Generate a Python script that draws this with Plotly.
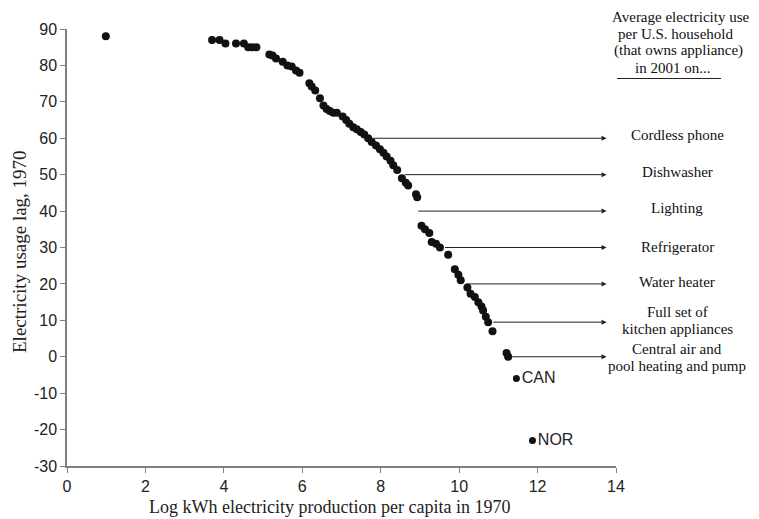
import plotly.graph_objects as go

# Country scatter (log kWh per capita 1970, electricity usage lag)
x_vals = [0.99, 3.70, 3.89, 4.04, 4.31, 4.51, 4.62, 4.72, 4.83, 5.16, 5.24, 5.33,
          5.50, 5.62, 5.73, 5.84, 5.93, 6.18, 6.24, 6.33, 6.45, 6.54, 6.62, 6.70,
          6.79, 6.88, 7.03, 7.12, 7.20, 7.30, 7.39, 7.49, 7.58, 7.68, 7.77, 7.88,
          7.98, 8.07, 8.15, 8.25, 8.32, 8.42, 8.54, 8.64, 8.70, 8.90, 8.93, 9.04,
          9.13, 9.24, 9.30, 9.41, 9.51, 9.72, 9.89, 9.98, 10.04, 10.21, 10.29,
          10.40, 10.49, 10.57, 10.61, 10.68, 10.74, 10.85, 11.21, 11.25]
y_vals = [88, 87, 87, 86, 86, 86, 85, 85, 85, 83, 82.7, 81.9,
          81, 80, 79.7, 78.6, 78, 75.1, 74.2, 73.1, 71, 69, 68, 67.5,
          67, 67, 66, 65, 64, 63, 62.5, 61.7, 61, 60, 59, 58,
          57, 56, 55, 53.8, 52.6, 51.3, 49, 47.8, 47, 44.6, 43.8, 36,
          35, 34, 31.5, 31, 30, 28, 24, 22.5, 21, 19, 17.3,
          16.4, 15, 13.8, 12.7, 11, 9.5, 7, 1, 0]

outlier_x = [11.46, 11.87]
outlier_y = [-6, -23]
outlier_names = ["CAN", "NOR"]

# Appliance reference levels
levels = [60, 50, 40, 30, 20, 9.5, 0]
line_starts = [7.70, 8.58, 8.92, 9.60, 10.15, 10.83, 11.29]
appliance_lines = [["Cordless phone"], ["Dishwasher"], ["Lighting"], ["Refrigerator"],
                   ["Water heater"], ["Full set of", "kitchen appliances"],
                   ["Central air and", "pool heating and pump"]]
header_lines = ["Average electricity use", "per U.S. household",
                "(that owns appliance)", "in 2001 on..."]

x_ticks = [0, 2, 4, 6, 8, 10, 12, 14]
y_ticks = [-30, -20, -10, 0, 10, 20, 30, 40, 50, 60, 70, 80, 90]
y_tick_text = [str(v) for v in y_ticks]  # plain hyphen minus

# page geometry: the html body has an 8px margin, so the figure sits at (8, 8)
OFF = 8
PAGE_W, PAGE_H = 759, 519
W, H = PAGE_W - OFF, PAGE_H - OFF
# plot area in page pixels
PL, PR, PT, PB = 67, 616, 29, 466
L, R, T, B = PL - OFF, W - (PR - OFF), PT - OFF, H - (PB - OFF)
plot_w = PR - PL
plot_h = PB - PT


def px_x(p):
    return (p - PL) / plot_w


def px_y(p):
    return (PB - p) / plot_h


fig = go.Figure()
fig.add_trace(go.Scatter(x=x_vals, y=y_vals, mode="markers",
                         marker=dict(color="#111111", size=8), showlegend=False,
                         cliponaxis=False))
fig.add_trace(go.Scatter(x=outlier_x, y=outlier_y, mode="markers+text",
                         text=outlier_names, textposition="middle right",
                         textfont=dict(family="Liberation Sans", size=16, color="#222"),
                         marker=dict(color="#111111", size=7), showlegend=False,
                         cliponaxis=False))

serif = "Liberation Serif"
annotations = []
arrow_end = 13.76
label_px = [[135], [172.3], [208], [246.7], [282.3], [311.5, 328.5], [348.5, 365.5]]
for lv, st, lines, pys in zip(levels, line_starts, appliance_lines, label_px):
    annotations.append(dict(x=arrow_end, y=lv, ax=st, ay=lv, xref="x", yref="y",
                            axref="x", ayref="y", text="", showarrow=True,
                            arrowhead=2, arrowsize=1, arrowwidth=1,
                            arrowcolor="#222", standoff=0, startstandoff=0))
    for line, py in zip(lines, pys):
        annotations.append(dict(x=px_x(677), y=px_y(py), xref="paper", yref="paper",
                                text=line, showarrow=False, xanchor="center",
                                yanchor="middle",
                                font=dict(family=serif, size=15, color="#111")))

for line, pxc, py in zip(header_lines, [680, 675, 678, 672.5], [16.5, 33.5, 50.5, 67.5]):
    annotations.append(dict(x=px_x(pxc), y=px_y(py), xref="paper", yref="paper",
                            text=line, showarrow=False, xanchor="center",
                            yanchor="middle",
                            font=dict(family=serif, size=15, color="#111")))

# axis titles
annotations.append(dict(x=px_x(329), y=px_y(506.5), xref="paper", yref="paper",
                        text="Log kWh electricity production per capita in 1970",
                        showarrow=False, xanchor="center", yanchor="middle",
                        font=dict(family=serif, size=18, color="#222")))
annotations.append(dict(x=px_x(19.5), y=px_y(251.5), xref="paper", yref="paper",
                        text="Electricity usage lag, 1970", textangle=-90,
                        showarrow=False, xanchor="center", yanchor="middle",
                        font=dict(family=serif, size=19, color="#222")))

fig.update_layout(
    width=W, height=H,
    margin=dict(l=L, r=R, t=T, b=B),
    plot_bgcolor="white", paper_bgcolor="white",
    annotations=annotations,
    shapes=[dict(type="line", xref="paper", yref="paper", x0=px_x(617), x1=px_x(721),
                 y0=px_y(78.5), y1=px_y(78.5), line=dict(color="#222", width=1))],
)
fig.update_xaxes(range=[0, 14], tickvals=x_ticks, showgrid=False, zeroline=False,
                 showline=True, linecolor="#808080", linewidth=1.5, automargin=False,
                 ticks="outside", ticklen=5, tickcolor="#808080",
                 tickfont=dict(family="Liberation Sans", size=16, color="#222"))
fig.update_yaxes(range=[-30, 90], tickvals=y_ticks, ticktext=y_tick_text,
                 showgrid=False, zeroline=False, automargin=False,
                 showline=True, linecolor="#808080", linewidth=1.5,
                 ticks="outside", ticklen=5, tickcolor="#808080",
                 tickfont=dict(family="Liberation Sans", size=16, color="#222"))

fig.write_html("out.html")
